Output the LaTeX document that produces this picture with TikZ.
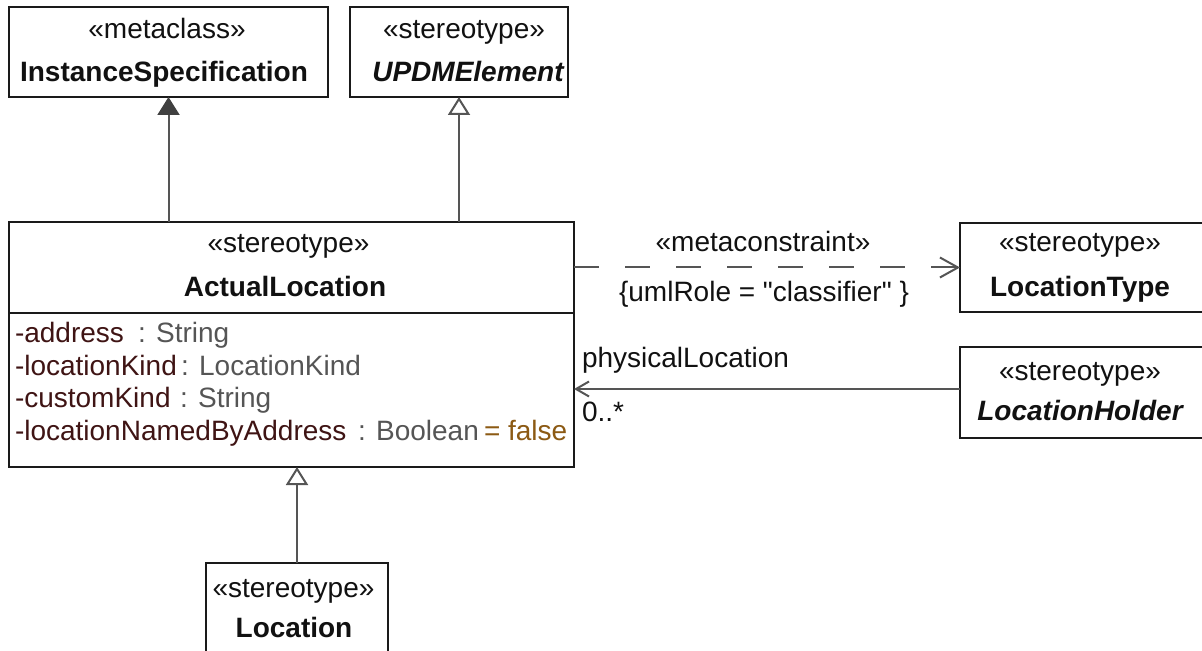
\documentclass[tikz,border=0pt]{standalone}
\usepackage{fontspec}
\setmainfont{Liberation Sans}[Ligatures=TeXOff]
\usetikzlibrary{arrows.meta}
\definecolor{boxline}{HTML}{1A1A1A}
\definecolor{conn}{HTML}{555555}
\definecolor{connfill}{HTML}{404040}
\definecolor{txt}{HTML}{111111}
\definecolor{attrname}{HTML}{3F1414}
\definecolor{attrtype}{HTML}{555555}
\definecolor{attrdef}{HTML}{8C5A14}
\begin{document}
\begin{tikzpicture}[x=0.5pt,y=-0.5pt,
  umlbox/.style={draw=boxline, line width=1.2pt, fill=white, rectangle,
    inner sep=0pt, outer sep=0pt, anchor=north west},
  lbl/.style={inner sep=0pt, outer sep=0pt, anchor=base, text=txt,
    font=\fontsize{14}{16}\selectfont},
  lblw/.style={lbl, anchor=base west},
  aname/.style={lblw, text=attrname},
  atype/.style={lblw, text=attrtype},
  adef/.style={lblw, text=attrdef},
  genopen/.style={draw=conn, line width=1pt,
    -{Triangle[open, length=9pt, width=11pt, fill=white]}},
  genfill/.style={draw=conn, line width=1pt,
    -{Triangle[length=9pt, width=11pt, fill=connfill, color=connfill]}},
  dep/.style={draw=conn, line width=1pt, dash pattern=on 12.5pt off 13pt,
    -{Straight Barb[length=9pt, width=10pt]}},
  assoc/.style={draw=conn, line width=1pt,
    -{Straight Barb[length=6.5pt, width=7.5pt]}}
]
\useasboundingbox (0,0) rectangle (1202,651);
\clip (0,0) rectangle (1202,651);

% class boxes
\node[umlbox, minimum width=159.5pt, minimum height=45pt] (inst) at (9,7) {};
\node[umlbox, minimum width=109pt, minimum height=45pt] (updm) at (350,7) {};
\node[umlbox, minimum width=282.5pt, minimum height=122.5pt] (actual) at (9,222) {};
\node[umlbox, minimum width=122pt, minimum height=44.5pt] (loctype) at (960,223) {};
\node[umlbox, minimum width=122pt, minimum height=45.5pt] (lholder) at (960,347) {};
\node[umlbox, minimum width=91pt, minimum height=60pt] (location) at (206,563) {};

% attribute compartment divider
\draw[boxline, line width=1.2pt] ([yshift=-45.5pt]actual.north west) -- ([yshift=-45.5pt]actual.north east);

% box titles
\node[lbl] (inst-st) at (167,39) {«metaclass»};
\node[lbl, font=\fontsize{14}{16}\selectfont\bfseries] (inst-nm) at (164,82) {InstanceSpecification};
\node[lbl] (updm-st) at (464,38.5) {«stereotype»};
\node[lbl, font=\fontsize{14}{16}\selectfont\bfseries\itshape] (updm-nm) at (468,82) {UPDMElement};
\node[lbl] (act-st) at (288.5,253) {«stereotype»};
\node[lbl, font=\fontsize{14}{16}\selectfont\bfseries] (act-nm) at (285,297) {ActualLocation};
\node[lbl] (lt-st) at (1080,252) {«stereotype»};
\node[lbl, font=\fontsize{14}{16}\selectfont\bfseries] (lt-nm) at (1080,297) {LocationType};
\node[lbl] (lh-st) at (1080,380) {«stereotype»};
\node[lbl, font=\fontsize{14}{16}\selectfont\bfseries\itshape] (lh-nm) at (1080,420) {LocationHolder};
\node[lbl] (loc-st) at (293.5,597) {«stereotype»};
\node[lbl, font=\fontsize{14}{16}\selectfont\bfseries] (loc-nm) at (294,637) {Location};

% attributes
\node[aname] (a1n) at (15,343) {-address};
\node[atype] (a1t) at (138,343) {: String};
\node[aname] (a2n) at (15,375.5) {-locationKind};
\node[atype] (a2t) at (181,375.5) {: LocationKind};
\node[aname] (a3n) at (15,408) {-customKind};
\node[atype] (a3t) at (180,408) {: String};
\node[aname] (a4n) at (15,440.5) {-locationNamedByAddress};
\node[atype] (a4t) at (358,440.5) {: Boolean};
\node[adef] (a4d) at (484,440.5) {= false};

% generalizations
\draw[genfill] (actual.north -| inst.south) -- (inst.south);
\draw[genopen] (actual.north -| updm.south) -- (updm.south);
\draw[genopen] (location.north) -- (location.north |- actual.south);

% metaconstraint dependency
\draw[dep] (actual.east |- loctype.west) -- (loctype.west);
\node[lbl] (mc) at (763,252) {«metaconstraint»};
\node[lbl] (role) at (764,302) {\{umlRole = "classifier" \}};

% association
\coordinate (assocend) at ([yshift=1.75pt]lholder.west);
\draw[assoc] (assocend) -- (actual.east |- assocend);
\node[lblw] (phys) at (582,368) {physicalLocation};
\node[lblw] (mult) at (582,422) {0..*};
\end{tikzpicture}
\end{document}
